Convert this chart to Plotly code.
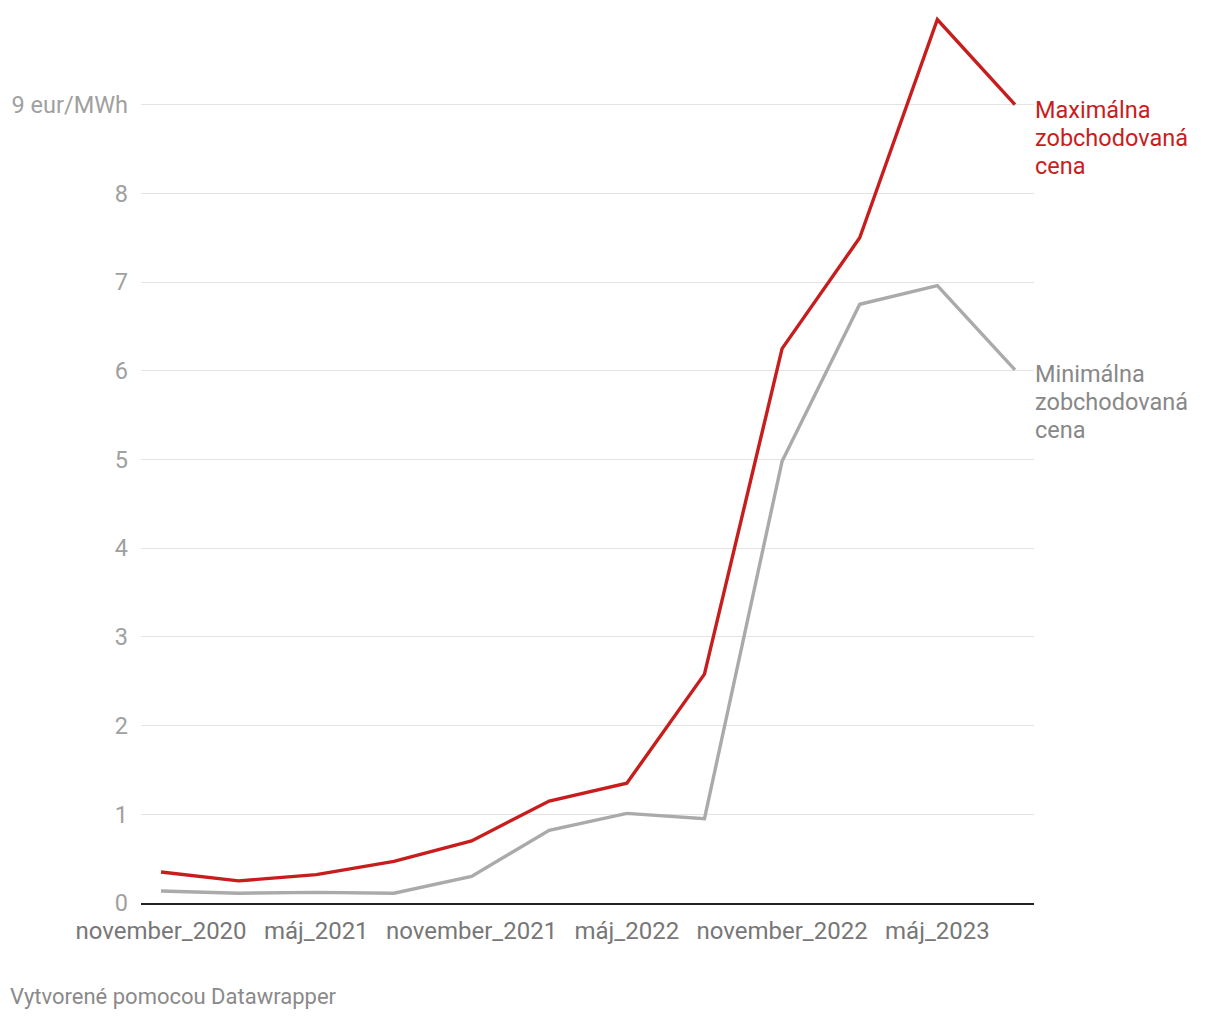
import plotly.graph_objects as go

months = ["november_2020", "február_2021", "máj_2021", "august_2021",
          "november_2021", "február_2022", "máj_2022", "august_2022",
          "november_2022", "február_2023", "máj_2023", "august_2023"]
max_price = [0.35, 0.25, 0.32, 0.47, 0.70, 1.15, 1.35, 2.58, 6.25, 7.50, 9.96, 9.0]
min_price = [0.135, 0.11, 0.12, 0.11, 0.30, 0.82, 1.01, 0.95, 4.98, 6.75, 6.96, 6.01]
y_ticks = [0, 1, 2, 3, 4, 5, 6, 7, 8, 9]
y_ticktext = ["0", "1", "2", "3", "4", "5", "6", "7", "8", "9 eur/MWh"]
x_tick_idx = [0, 2, 4, 6, 8, 10]
max_label = ["Maximálna", "zobchodovaná", "cena"]
min_label = ["Minimálna", "zobchodovaná", "cena"]
footer = "Vytvorené pomocou Datawrapper"

RED = "#c71e1d"
GREY = "#aaaaaa"
LABEL_GREY = "#888888"
FONT = "Roboto"

xs = list(range(len(months)))

fig = go.Figure()
fig.add_trace(go.Scatter(x=xs, y=min_price, mode="lines",
                         line=dict(color=GREY, width=3.4), cliponaxis=False,
                         hoverinfo="skip", showlegend=False))
fig.add_trace(go.Scatter(x=xs, y=max_price, mode="lines",
                         line=dict(color=RED, width=3.4), cliponaxis=False,
                         hoverinfo="skip", showlegend=False))

for lines, yv, col, first in [(max_label, max_price[-1], RED, -5),
                              (min_label, min_price[-1], LABEL_GREY, -4)]:
    for i, t in enumerate(lines):
        fig.add_annotation(x=xs[-1], y=yv, xref="x", yref="y", text=t,
                           showarrow=False, xanchor="left", yanchor="middle",
                           xshift=18, yshift=first - 28 * i,
                           font=dict(family=FONT, size=23.5, color=col))

fig.add_annotation(x=-133 / 893, y=-94 / 887, xref="paper", yref="paper",
                   xanchor="left", yanchor="middle", text=footer, showarrow=False,
                   font=dict(family=FONT, size=22, color="#8a8a8a"))

fig.update_layout(
    width=1220, height=1020,
    margin=dict(l=133, r=194, t=8, b=125),
    plot_bgcolor="white", paper_bgcolor="white",
    font=dict(family=FONT, size=23.5, color="#999999"),
    xaxis=dict(range=[-0.258, 11.245], tickvals=[xs[i] for i in x_tick_idx],
               ticktext=[months[i] for i in x_tick_idx], showgrid=False,
               zeroline=False, showline=True, linecolor="#222222", linewidth=2,
               ticks="", ticklabelstandoff=5, automargin=False,
               tickfont=dict(family=FONT, size=24, color="#777777")),
    yaxis=dict(range=[0, 10], tickvals=y_ticks, ticktext=y_ticktext,
               showgrid=True, gridcolor="#e3e3e3", gridwidth=1, zeroline=False,
               showline=False, ticks="", ticklabelstandoff=12, automargin=False,
               tickfont=dict(family=FONT, size=23.5, color="#a0a0a0")),
)

fig.write_html("out.html")
